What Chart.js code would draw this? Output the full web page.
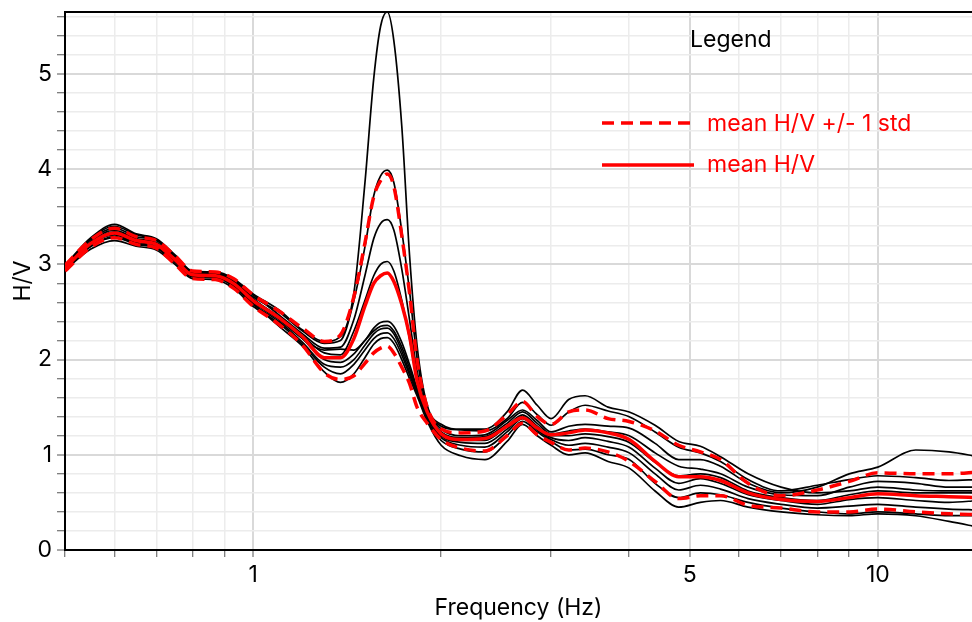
<!DOCTYPE html>
<html>
<head>
<meta charset="utf-8">
<script src="https://cdn.jsdelivr.net/npm/chart.js@4.4.1/dist/chart.umd.min.js"></script>
<style>
  html, body { margin: 0; padding: 0; background: #fff; }
  #wrap { width: 972px; height: 622px; }
</style>
</head>
<body>
<div id="wrap"><canvas id="hv_chart" width="972" height="622"></canvas></div>
<script>
// frequencies (Hz) the curves were read at
const freqs = [0.5, 0.55, 0.6, 0.65, 0.7, 0.75, 0.8, 0.87, 0.93, 1.0,
  1.1, 1.2, 1.3, 1.38, 1.45, 1.51, 1.56, 1.6, 1.64, 1.68,
  1.73, 1.78, 1.83, 1.9, 2.0, 2.15, 2.35, 2.55, 2.7, 2.85,
  3.0, 3.2, 3.4, 3.7, 4.0, 4.4, 4.8, 5.2, 5.6, 6.2,
  7.0, 8.0, 9.0, 10, 11.5, 13, 14.5];

// individual H/V curves (black)
const curveA = [2.99, 3.28, 3.42, 3.32, 3.27, 3.10, 2.93, 2.92, 2.85, 2.69,
  2.52, 2.31, 2.19, 2.24, 2.70, 3.85, 4.95, 5.50, 5.65, 5.35,
  4.45, 3.10, 2.15, 1.52, 1.32, 1.27, 1.27, 1.45, 1.68, 1.52,
  1.38, 1.58, 1.62, 1.50, 1.45, 1.31, 1.14, 1.09, 0.98, 0.80,
  0.66, 0.60, 0.62, 0.66, 0.63, 0.62, 0.62];
const curveB = [2.98, 3.26, 3.38, 3.29, 3.25, 3.08, 2.91, 2.90, 2.83, 2.66,
  2.50, 2.30, 2.17, 2.20, 2.62, 3.18, 3.72, 3.93, 3.99, 3.86,
  3.35, 2.72, 2.02, 1.50, 1.30, 1.26, 1.25, 1.38, 1.55, 1.42,
  1.31, 1.45, 1.52, 1.46, 1.40, 1.24, 1.08, 1.02, 0.93, 0.74,
  0.62, 0.68, 0.74, 0.78, 0.76, 0.73, 0.74];
const curveC = [2.98, 3.27, 3.40, 3.31, 3.26, 3.09, 2.92, 2.91, 2.84, 2.68,
  2.47, 2.27, 2.12, 2.13, 2.42, 2.88, 3.27, 3.43, 3.47, 3.36,
  2.95, 2.42, 1.88, 1.48, 1.27, 1.20, 1.21, 1.36, 1.47, 1.36,
  1.24, 1.30, 1.32, 1.30, 1.28, 1.12, 0.95, 0.95, 0.88, 0.70,
  0.60, 0.66, 0.80, 0.87, 1.05, 1.03, 0.98];
const curveD = [2.96, 3.23, 3.34, 3.26, 3.22, 3.06, 2.90, 2.88, 2.81, 2.63,
  2.45, 2.25, 2.07, 2.05, 2.30, 2.62, 2.88, 3.00, 3.03, 2.93,
  2.62, 2.22, 1.78, 1.45, 1.24, 1.18, 1.19, 1.33, 1.45, 1.33,
  1.22, 1.25, 1.27, 1.24, 1.20, 1.02, 0.88, 0.85, 0.80, 0.66,
  0.58, 0.57, 0.66, 0.72, 0.70, 0.66, 0.66];
const curveE = [2.95, 3.21, 3.31, 3.23, 3.20, 3.04, 2.88, 2.87, 2.79, 2.60,
  2.42, 2.22, 2.10, 2.11, 2.10, 2.20, 2.33, 2.39, 2.40, 2.35,
  2.18, 1.95, 1.70, 1.42, 1.22, 1.15, 1.15, 1.30, 1.42, 1.30,
  1.20, 1.20, 1.22, 1.19, 1.13, 0.92, 0.78, 0.80, 0.76, 0.62,
  0.55, 0.52, 0.58, 0.62, 0.60, 0.60, 0.60];
const curveF = [2.97, 3.24, 3.36, 3.27, 3.23, 3.07, 2.90, 2.89, 2.82, 2.64,
  2.44, 2.22, 2.00, 1.97, 2.06, 2.20, 2.30, 2.35, 2.36, 2.30,
  2.13, 1.91, 1.68, 1.40, 1.20, 1.13, 1.12, 1.27, 1.40, 1.28,
  1.18, 1.15, 1.18, 1.14, 1.08, 0.86, 0.70, 0.75, 0.70, 0.58,
  0.52, 0.48, 0.53, 0.55, 0.52, 0.50, 0.52];
const curveG = [2.95, 3.19, 3.28, 3.21, 3.17, 3.02, 2.87, 2.86, 2.77, 2.58,
  2.40, 2.18, 1.95, 1.92, 2.00, 2.15, 2.27, 2.32, 2.33, 2.27,
  2.09, 1.87, 1.66, 1.39, 1.18, 1.10, 1.08, 1.24, 1.38, 1.26,
  1.16, 1.10, 1.12, 1.08, 1.02, 0.80, 0.63, 0.68, 0.64, 0.54,
  0.48, 0.44, 0.46, 0.48, 0.45, 0.43, 0.42];
const curveH = [2.94, 3.16, 3.25, 3.19, 3.15, 3.00, 2.85, 2.84, 2.75, 2.56,
  2.38, 2.16, 1.92, 1.85, 1.95, 2.10, 2.22, 2.27, 2.28, 2.22,
  2.05, 1.84, 1.64, 1.37, 1.15, 1.06, 1.03, 1.20, 1.35, 1.24,
  1.14, 1.05, 1.06, 1.00, 0.95, 0.70, 0.55, 0.60, 0.58, 0.50,
  0.44, 0.40, 0.38, 0.40, 0.38, 0.36, 0.36];
const curveI = [2.95, 3.19, 3.29, 3.22, 3.18, 3.03, 2.87, 2.86, 2.78, 2.59,
  2.35, 2.14, 1.87, 1.76, 1.85, 2.02, 2.16, 2.22, 2.23, 2.17,
  2.00, 1.80, 1.62, 1.35, 1.10, 0.99, 0.95, 1.14, 1.32, 1.20,
  1.10, 1.00, 1.02, 0.93, 0.86, 0.62, 0.45, 0.50, 0.52, 0.45,
  0.40, 0.37, 0.36, 0.38, 0.36, 0.30, 0.24];

// red curves
const meanHV = [2.96, 3.22, 3.33, 3.25, 3.21, 3.05, 2.89, 2.88, 2.80, 2.62,
  2.44, 2.24, 2.02, 2.02, 2.22, 2.56, 2.80, 2.88, 2.91, 2.82,
  2.58, 2.25, 1.78, 1.45, 1.22, 1.16, 1.17, 1.30, 1.39, 1.28,
  1.21, 1.23, 1.26, 1.23, 1.16, 0.93, 0.77, 0.77, 0.73, 0.60,
  0.53, 0.51, 0.55, 0.59, 0.57, 0.56, 0.55];
const meanPlusStd = [2.99, 3.26, 3.38, 3.29, 3.25, 3.09, 2.93, 2.92, 2.85, 2.68,
  2.51, 2.33, 2.19, 2.26, 2.66, 3.22, 3.71, 3.88, 3.95, 3.82,
  3.30, 2.70, 2.00, 1.50, 1.27, 1.23, 1.25, 1.42, 1.56, 1.40,
  1.32, 1.45, 1.47, 1.38, 1.35, 1.25, 1.10, 1.03, 0.95, 0.70,
  0.57, 0.63, 0.72, 0.81, 0.80, 0.80, 0.82];
const meanMinusStd = [2.93, 3.18, 3.28, 3.21, 3.17, 3.00, 2.85, 2.84, 2.75, 2.56,
  2.37, 2.15, 1.86, 1.79, 1.83, 1.96, 2.07, 2.12, 2.14, 2.07,
  1.92, 1.75, 1.50, 1.33, 1.16, 1.07, 1.04, 1.20, 1.33, 1.21,
  1.13, 1.05, 1.07, 1.03, 0.93, 0.72, 0.54, 0.57, 0.57, 0.47,
  0.44, 0.40, 0.40, 0.43, 0.40, 0.38, 0.37];

const xTicks = [0.5, 0.6, 0.7, 0.8, 0.9, 1, 2, 3, 4, 5, 6, 7, 8, 9, 10];
const xLabels = [1, 5, 10];
const yTicks = [0, 0.2, 0.4, 0.6, 0.8, 1, 1.2, 1.4, 1.6, 1.8, 2, 2.2, 2.4, 2.6, 2.8,
  3, 3.2, 3.4, 3.6, 3.8, 4, 4.2, 4.4, 4.6, 4.8, 5, 5.2, 5.4, 5.6];
const yLabels = [0, 1, 2, 3, 4, 5];

const FONT = "Inter, 'Liberation Sans', sans-serif";
const FONT_SIZE = 23;

function toPoints(values) {
  return values.map((v, i) => ({ x: freqs[i], y: v }));
}

const blackCurves = [curveA, curveB, curveC, curveD, curveE, curveF, curveG, curveH, curveI];

const datasets = blackCurves.map((curve) => ({
  data: toPoints(curve),
  borderColor: "#000000",
  borderWidth: 1.7,
  order: 3,
}));

datasets.push({
  label: "mean H/V",
  data: toPoints(meanHV),
  borderColor: "#ff0000",
  borderWidth: 3.5,
  order: 2,
});
datasets.push({
  label: "mean H/V +/- 1 std",
  data: toPoints(meanPlusStd),
  borderColor: "#ff0000",
  borderWidth: 3.5,
  borderDash: [12, 7],
  order: 1,
});
datasets.push({
  data: toPoints(meanMinusStd),
  borderColor: "#ff0000",
  borderWidth: 3.5,
  borderDash: [12, 7],
  order: 1,
});

// top frame line + the legend box text
const frameAndLegend = {
  id: "frameAndLegend",
  afterDraw(chart) {
    const ctx = chart.ctx;
    const area = chart.chartArea;
    ctx.save();

    ctx.strokeStyle = "#000";
    ctx.lineWidth = 2;
    ctx.beginPath();
    ctx.moveTo(area.left - 1, area.top);
    ctx.lineTo(area.right, area.top);
    ctx.stroke();

    ctx.font = FONT_SIZE + "px " + FONT;
    ctx.textBaseline = "middle";
    ctx.fillStyle = "#000";
    ctx.fillText("Legend", 690, 40);

    ctx.strokeStyle = "#ff0000";
    ctx.lineWidth = 3.5;
    ctx.setLineDash([12, 7]);
    ctx.beginPath();
    ctx.moveTo(602, 123);
    ctx.lineTo(694, 123);
    ctx.stroke();

    ctx.setLineDash([]);
    ctx.beginPath();
    ctx.moveTo(602, 165);
    ctx.lineTo(694, 165);
    ctx.stroke();

    ctx.fillStyle = "#ff0000";
    ctx.fillText("mean H/V +/- 1 std", 707, 124);
    ctx.fillText("mean H/V", 707, 165);
    ctx.restore();
  },
};

const majorGrid = "#d9d9d9";
const minorGrid = "#ececec";

new Chart(document.getElementById("hv_chart"), {
  type: "line",
  data: { datasets },
  options: {
    responsive: false,
    animation: false,
    events: [],
    layout: { padding: { top: 12, right: 0, left: 0, bottom: 0 } },
    elements: {
      point: { radius: 0 },
      line: { cubicInterpolationMode: "monotone", fill: false },
    },
    plugins: {
      legend: { display: false },
      tooltip: { enabled: false },
    },
    scales: {
      x: {
        type: "logarithmic",
        min: 0.5,
        max: 14.15,
        afterBuildTicks(axis) {
          axis.ticks = xTicks.map((v) => ({ value: v }));
        },
        afterFit(scale) {
          scale.height = 72;
          scale.paddingLeft = 0;
          scale.paddingRight = 0;
        },
        ticks: {
          autoSkip: false,
          maxRotation: 0,
          padding: 4,
          color: "#000",
          font: { family: FONT, size: FONT_SIZE },
          callback: (value) => (xLabels.includes(value) ? String(value) : ""),
        },
        grid: {
          color: (c) => (c.tick && xLabels.includes(c.tick.value) ? majorGrid : minorGrid),
          lineWidth: (c) => (c.tick && xLabels.includes(c.tick.value) ? 2 : 1.5),
          tickColor: "#555",
          tickWidth: 1,
          tickLength: 7,
        },
        border: { display: true, color: "#000", width: 2 },
        title: {
          display: true,
          text: "Frequency (Hz)",
          color: "#000",
          font: { family: FONT, size: FONT_SIZE },
          padding: { top: 0, bottom: 0 },
        },
      },
      y: {
        type: "linear",
        min: 0,
        max: 5.65,
        afterBuildTicks(axis) {
          axis.ticks = yTicks.map((v) => ({ value: v }));
        },
        afterFit(scale) {
          scale.width = 65;
          scale.paddingTop = 0;
          scale.paddingBottom = 0;
        },
        ticks: {
          autoSkip: false,
          padding: 5,
          color: "#000",
          font: { family: FONT, size: FONT_SIZE },
          callback: (value) => (yLabels.includes(value) ? String(value) : ""),
        },
        grid: {
          color: (c) => (c.tick && yLabels.includes(c.tick.value) ? majorGrid : minorGrid),
          lineWidth: (c) => (c.tick && yLabels.includes(c.tick.value) ? 2 : 1.5),
          tickColor: "#555",
          tickWidth: 1,
          tickLength: 8,
        },
        border: { display: true, color: "#000", width: 2 },
        title: {
          display: true,
          text: "H/V",
          color: "#000",
          font: { family: FONT, size: FONT_SIZE },
          padding: { top: 9, bottom: 0 },
        },
      },
    },
  },
  plugins: [frameAndLegend],
});
</script>
</body>
</html>
